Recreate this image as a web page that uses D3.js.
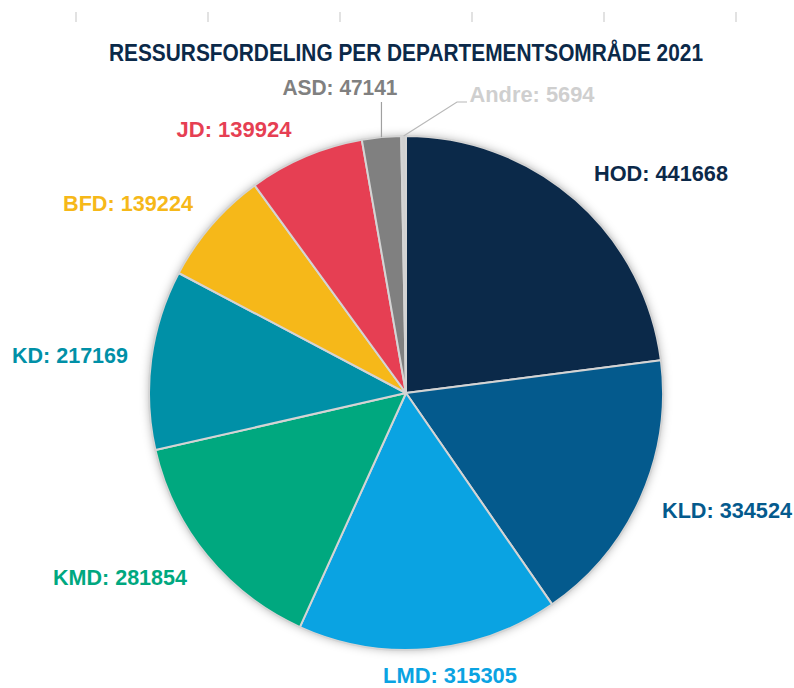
<!DOCTYPE html>
<html><head><meta charset="utf-8">
<script src="https://cdn.jsdelivr.net/npm/d3@7"></script>
<style>body{margin:0;background:#fff}svg{display:block}</style>
</head><body>
<svg id="chart" width="794" height="688"></svg>
<script>
const title = "RESSURSFORDELING PER DEPARTEMENTSOMRÅDE 2021";
const categories = ["HOD","KLD","LMD","KMD","KD","BFD","JD","ASD","Andre"];
const values = [441668,334524,315305,281854,217169,139224,139924,47141,5694];
const colors = ["#0b2949","#045a8d","#0aa3e2","#00a87f","#0090a7","#f6b819","#e63f53","#808080","#d0d0d0"];
const labelColors = ["#0b2949","#045a8d","#0aa3e2","#00a87f","#0090a7","#f6b819","#e63f53","#808080","#cfcfcf"];
// label anchor positions (text centre) and widths
const labelPos = [[661,173,134],[727,510,130],[450,675,134],[120,577,134],[70,355,116],[128,203,130],[234,129,115],[340,87,115],[532,94,125]];
const topTicks = [76,208,340,472,604,736];

const svg = d3.select("#chart");
const defs = svg.append("defs");
const f = defs.append("filter").attr("id","sh").attr("x","-20%").attr("y","-20%").attr("width","140%").attr("height","140%");
f.append("feDropShadow").attr("dx",0).attr("dy",0).attr("stdDeviation",5).attr("flood-color","#000").attr("flood-opacity",0.3);

// top tick marks
const xs = d3.scaleIdentity();
svg.append("g").selectAll("line").data(topTicks).join("line")
  .attr("x1",d=>xs(d)).attr("x2",d=>xs(d)).attr("y1",12).attr("y2",22)
  .attr("stroke","#d9d9d9").attr("stroke-width",1.5);

const font = "'Liberation Sans Narrow','Arial Narrow','Liberation Sans',sans-serif";
svg.append("text").attr("x",406).attr("y",61).attr("text-anchor","middle")
  .attr("font-family",font).attr("font-weight","bold").attr("font-size",23)
  .attr("fill","#0b2949").attr("textLength",594).attr("lengthAdjust","spacingAndGlyphs").text(title);

const cx=406, cy=393, r=257;
const pie = d3.pie().sort(null).value(d=>d.v);
const arcs = pie(categories.map((c,i)=>({c,v:values[i],i})));
const arc = d3.arc().innerRadius(0).outerRadius(r);
const g = svg.append("g").attr("transform",`translate(${cx},${cy})`);
g.append("circle").attr("r",r).attr("fill","#fff").attr("filter","url(#sh)");
g.selectAll("path").data(arcs).join("path")
  .attr("d",arc).attr("fill",d=>colors[d.data.i])
  .attr("stroke","#d4d4d4").attr("stroke-width",2).attr("stroke-linejoin","round");

// leader lines for small slices
const outer = d3.arc().innerRadius(r).outerRadius(r);
const asd = outer.centroid(arcs[7]);
svg.append("polyline").attr("points",`${cx+asd[0]},${cy+asd[1]} ${cx+asd[0]},102`)
  .attr("fill","none").attr("stroke","#a0a0a0").attr("stroke-width",1.2);
const an = outer.centroid(arcs[8]);
svg.append("polyline").attr("points",`${cx+an[0]},${cy+an[1]} 457,102 467,102`)
  .attr("fill","none").attr("stroke","#b8b8b8").attr("stroke-width",1.2);

svg.append("g").selectAll("text").data(arcs).join("text")
  .attr("x",d=>labelPos[d.data.i][0]).attr("y",d=>labelPos[d.data.i][1]+8)
  .attr("text-anchor","middle").attr("font-family",font).attr("font-weight","bold")
  .attr("font-size",22).attr("fill",d=>labelColors[d.data.i])
  .attr("textLength",d=>labelPos[d.data.i][2]).attr("lengthAdjust","spacingAndGlyphs")
  .text(d=>`${d.data.c}: ${d.data.v}`);
</script>
</body></html>
